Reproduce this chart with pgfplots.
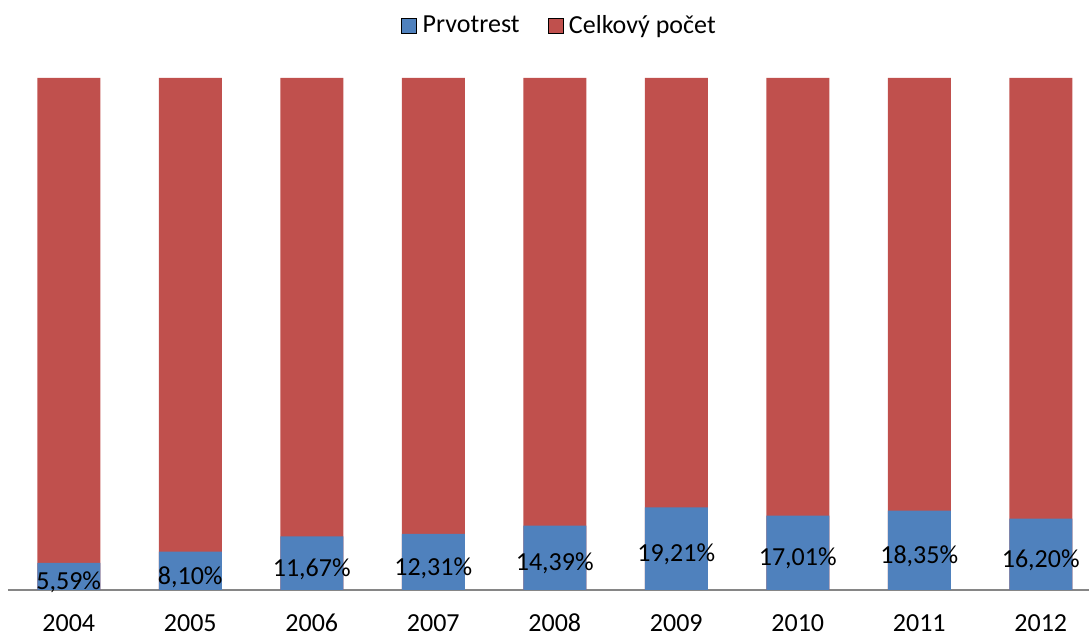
\documentclass[border=0pt]{standalone}
\usepackage{pgfplots}
\pgfplotsset{compat=1.18}
\usepackage{pgfplotstable}
\usepackage{fontspec}
\setmainfont{Carlito}
\definecolor{cblue}{HTML}{4F81BD}
\definecolor{cred}{HTML}{C0504D}
\definecolor{cgray}{HTML}{868686}
% Prvotrest (v) stacked with Celkovy pocet (t), shown as 100% stacked bars
\pgfplotstableread{
x year v t
0 2004 5.59 100
1 2005 8.10 100
2 2006 11.67 100
3 2007 12.31 100
4 2008 14.39 100
5 2009 19.21 100
6 2010 17.01 100
7 2011 18.35 100
8 2012 16.20 100
}\datatab
\begin{document}
\fontsize{26}{30}\selectfont
\begin{tikzpicture}
\begin{axis}[
  scale only axis,
  width=1081pt, height=512pt,
  xmin=-0.5, xmax=8.397,
  ymin=0, ymax=100,
  ybar, bar width=63pt,
  axis x line*=bottom,
  axis y line=none,
  x axis line style={cgray, line width=1.2pt},
  xtick={0,...,8},
  xticklabels={2004,2005,2006,2007,2008,2009,2010,2011,2012},
  major tick length=0pt,
  xticklabel style={font=\fontsize{26}{30}\selectfont, anchor=base, inner sep=0pt, text depth=0pt, yshift=-42pt},
  legend columns=2,
  legend style={at={(0.5,1)}, anchor=center, xshift=11pt, yshift=52pt, draw=none, fill=none,
    font=\fontsize{26}{30}\selectfont,
    /tikz/every even column/.append style={column sep=26pt}},
  legend image code/.code={\fill[#1] (0pt,-7.5pt) rectangle (15pt,7.5pt);},
  clip=false,
]
\addlegendimage{fill=cblue}
\addlegendimage{fill=cred}
\addplot[fill=cred, draw=none, bar shift=0pt, forget plot] table[x=x, y=t] {\datatab};
\addplot[fill=cblue, draw=none, bar shift=0pt, forget plot]
  table[x=x, y expr={100*\thisrow{v}/(\thisrow{v}+\thisrow{t})}] {\datatab};
\addplot[draw=none, fill=none, bar shift=0pt, forget plot,
  point meta=explicit,
  nodes near coords={\pgfmathprintnumber[fixed, fixed zerofill, precision=2, use comma, assume math mode=true]{\pgfplotspointmeta}\%},
  every node near coord/.append style={anchor=center, yshift=-6pt, font=\fontsize{26}{30}\selectfont, text=black},
] table[x=x, y expr={50*\thisrow{v}/(\thisrow{v}+\thisrow{t})}, meta=v] {\datatab};
\legend{\hspace{4pt}Prvotrest, \hspace{4pt}Celkový počet}
\coordinate (bl) at (rel axis cs:0,0);
\coordinate (tr) at (rel axis cs:1,1);
\end{axis}
\pgfresetboundingbox
\useasboundingbox ([xshift=-8pt, yshift=-46pt]bl) rectangle ([yshift=78pt]tr);
\end{tikzpicture}
\end{document}
